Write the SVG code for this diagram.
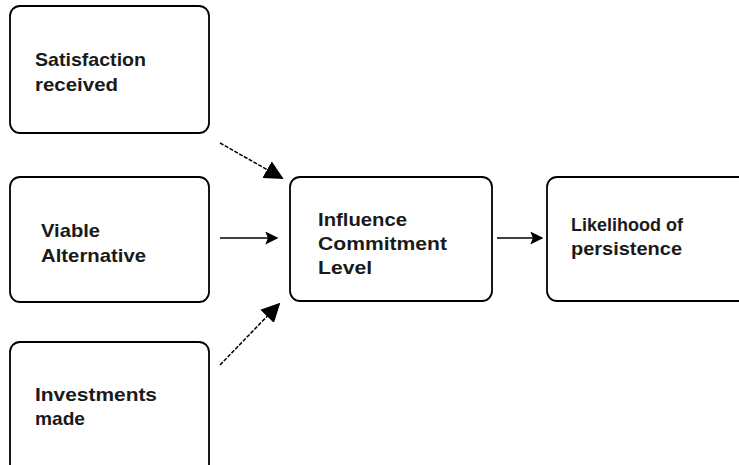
<svg xmlns="http://www.w3.org/2000/svg" width="739" height="465" viewBox="0 0 739 465">
<style>
.box{fill:#fff;stroke:#000;stroke-width:1.8}
.t{font-family:"Liberation Sans",Arial,sans-serif;font-weight:bold;font-size:18.5px;fill:#1a1a1a}
.c{stroke:#000;stroke-width:1.5;fill:none}
.d{stroke-dasharray:4 1.5}
</style>
<defs>
<marker id="ah" viewBox="0 0 10 10" refX="9" refY="5" markerWidth="13" markerHeight="13" markerUnits="userSpaceOnUse" orient="auto">
<path d="M0,0 L10,5 L0,10 L2,5 Z" fill="#000"/>
</marker>
<marker id="ahb" viewBox="0 0 10 10" refX="9" refY="5" markerWidth="19" markerHeight="19" markerUnits="userSpaceOnUse" orient="auto">
<path d="M0,0 L10,5 L0,10 Z" fill="#000"/>
</marker>
</defs>
<rect width="739" height="465" fill="#fff"/>
<g id="connectors">
<path class="c d" d="M220,143 L282,178" marker-end="url(#ahb)"/>
<path class="c" d="M220,238 L277,238" marker-end="url(#ah)"/>
<path class="c d" d="M220,365 L279,304" marker-end="url(#ahb)"/>
<path class="c" d="M497,238 L542,238" marker-end="url(#ah)"/>
</g>
<g id="satisfaction">
<rect class="box" x="10" y="6" width="199" height="127" rx="10"/>
<text class="t" x="35" y="66" textLength="111" lengthAdjust="spacingAndGlyphs">Satisfaction</text>
<text class="t" x="35" y="91" textLength="83" lengthAdjust="spacingAndGlyphs">received</text>
</g>
<g id="viable">
<rect class="box" x="10" y="177" width="199" height="125" rx="10"/>
<text class="t" x="41" y="237" textLength="59" lengthAdjust="spacingAndGlyphs">Viable</text>
<text class="t" x="41" y="262" textLength="105" lengthAdjust="spacingAndGlyphs">Alternative</text>
</g>
<g id="investments">
<rect class="box" x="10" y="342" width="199" height="140" rx="10"/>
<text class="t" x="35" y="401" textLength="122" lengthAdjust="spacingAndGlyphs">Investments</text>
<text class="t" x="35" y="425" textLength="50" lengthAdjust="spacingAndGlyphs">made</text>
</g>
<g id="influence">
<rect class="box" x="290" y="177" width="202" height="124" rx="10"/>
<text class="t" x="318" y="226" textLength="89" lengthAdjust="spacingAndGlyphs">Influence</text>
<text class="t" x="318" y="250" textLength="129" lengthAdjust="spacingAndGlyphs">Commitment</text>
<text class="t" x="318" y="274" textLength="54" lengthAdjust="spacingAndGlyphs">Level</text>
</g>
<g id="likelihood">
<rect class="box" x="547" y="177" width="210" height="124" rx="10"/>
<text class="t" x="571" y="231" textLength="112" lengthAdjust="spacingAndGlyphs">Likelihood of</text>
<text class="t" x="571" y="255" textLength="111" lengthAdjust="spacingAndGlyphs">persistence</text>
</g>
</svg>
